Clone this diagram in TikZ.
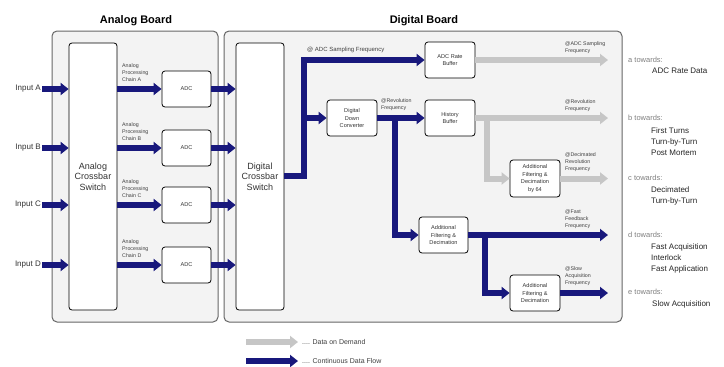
\documentclass[tikz,border=0pt]{standalone}
\usepackage{fontspec}
\setmainfont{Liberation Sans}
\usetikzlibrary{arrows.meta}
\definecolor{navy}{HTML}{18187C}
\definecolor{lgray}{HTML}{C6C6C6}
\definecolor{boardfill}{HTML}{F3F3F3}
\tikzset{
  board/.style={draw=black!60, fill=boardfill, rounded corners=5pt, line width=1pt, inner sep=0pt},
  blk/.style={draw=black, fill=white, rounded corners=3pt, line width=0.8pt, align=center,
    font=\fontsize{5.6}{7.5}\selectfont, text=black!80, inner sep=0pt},
  xbar/.style={blk, minimum width=48pt, minimum height=267pt, font=\fontsize{9}{10.5}\selectfont},
  adcbox/.style={blk, minimum width=49pt, minimum height=36pt},
  bflow/.style={draw=navy, line width=6pt, line join=miter, -{Triangle[width=12pt,length=8pt]}},
  gflow/.style={draw=lgray, line width=6pt, line join=miter, -{Triangle[width=12pt,length=8pt]}},
  tiny/.style={font=\fontsize{5.3}{7}\selectfont, align=left, inner sep=0pt, text=black!75},
  inlbl/.style={font=\fontsize{8}{9}\selectfont, inner sep=1pt, text=black!80},
  title/.style={font=\fontsize{11}{12}\bfseries\selectfont, inner sep=0pt},
  towards/.style={font=\fontsize{7.5}{9}\selectfont, text=black!50, inner sep=0pt, anchor=west},
  dest/.style={font=\fontsize{8}{11}\selectfont, text=black!85, inner sep=0pt, anchor=north west, align=left},
  legtxt/.style={font=\fontsize{7}{8}\selectfont, text=black!75, inner sep=0pt, anchor=west},
}
\begin{document}
\begin{tikzpicture}[x=1pt,y=-1pt]
\useasboundingbox (0,0) rectangle (724,367);
\fill[white] (0,0) rectangle (724,367);

% boards
\node[board, minimum width=166pt, minimum height=291pt] (aboard) at (135,176.5) {};
\node[board, minimum width=398pt, minimum height=291pt] (dboard) at (423,176.5) {};
\node[title] (atitle) at (136,21) {Analog Board};
\node[title] (dtitle) at (424,21) {Digital Board};

% analog
\node[xbar] (axb) at (93,176.5) {Analog\\Crossbar\\Switch};
\node[adcbox] (adcA) at (186.5,89) {ADC};
\node[adcbox] (adcB) at (186.5,148) {ADC};
\node[adcbox] (adcC) at (186.5,205) {ADC};
\node[adcbox] (adcD) at (186.5,265) {ADC};

\node[inlbl, anchor=east] (inA) at (42,89) {Input A};
\node[inlbl, anchor=east] (inB) at (42,148) {Input B};
\node[inlbl, anchor=east] (inC) at (42,205) {Input C};
\node[inlbl, anchor=east] (inD) at (42,265) {Input D};
\foreach \n in {A,B,C,D}{
  \draw[bflow] (in\n.east) -- (in\n.east -| axb.west);
  \draw[bflow] (adc\n.west -| axb.east) -- (adc\n.west);
}
\node[tiny, anchor=south west] (chA) at (122,82) {Analog\\Processing\\Chain A};
\node[tiny, anchor=south west] (chB) at (122,141) {Analog\\Processing\\Chain B};
\node[tiny, anchor=south west] (chC) at (122,198) {Analog\\Processing\\Chain C};
\node[tiny, anchor=south west] (chD) at (122,258) {Analog\\Processing\\Chain D};

% digital
\node[xbar] (dxb) at (260,176.5) {Digital\\Crossbar\\Switch};
\foreach \n in {A,B,C,D}{
  \draw[bflow] (adc\n.east) -- (adc\n.east -| dxb.west);
}
\node[adcbox, minimum width=50pt] (arb) at (450,60) {ADC Rate\\Buffer};
\node[adcbox, minimum width=50pt] (ddc) at (352,118) {Digital\\Down\\Converter};
\node[adcbox, minimum width=50pt] (hb) at (450,118) {History\\Buffer};
\node[adcbox] (af1) at (443.5,235) {Additional\\Filtering \&\\Decimation};
\node[adcbox, minimum width=50pt, minimum height=37pt] (af64) at (535,178.5) {Additional\\Filtering \&\\Decimation\\by 64};
\node[adcbox, minimum width=50pt] (af2) at (535,293) {Additional\\Filtering \&\\Decimation};

\coordinate (bus) at (303.5,176);
\coordinate (tap1) at (395,118);
\coordinate (tap2) at (487,118);
\coordinate (tap3) at (485,235);
\coordinate (outA) at (608,60);
\coordinate (outB) at (608,118);
\coordinate (outC) at (608,178.5);
\coordinate (outD) at (608,235);
\coordinate (outE) at (608,293);

% gray flows
\draw[gflow] (arb.east) -- (outA);
\draw[gflow] (hb.east) -- (outB);
\draw[gflow] (tap2) |- (af64.west);
\draw[gflow] (af64.east) -- (outC);

% blue flows
\draw[bflow] (bus -| dxb.east) -- (bus) |- (arb.west);
\draw[bflow] (ddc.west -| bus) -- (ddc.west);
\draw[bflow] (ddc.east) -- (hb.west);
\draw[bflow] (tap1) |- (af1.west);
\draw[bflow] (af1.east) -- (outD);
\draw[bflow] (tap3) |- (af2.west);
\draw[bflow] (af2.east) -- (outE);

% flow labels
\node[tiny, anchor=south west, font=\fontsize{6}{7}\selectfont] (lbus) at (307,53) {@ ADC Sampling Frequency};
\node[tiny, anchor=south west] (lrev) at (381,111) {@Revolution\\Frequency};
\node[tiny, anchor=south west] (lA) at (565,54) {@ADC Sampling\\Frequency};
\node[tiny, anchor=south west] (lB) at (565,112) {@Revolution\\Frequency};
\node[tiny, anchor=south west] (lC) at (565,172) {@Decimated\\Revolution\\Frequency};
\node[tiny, anchor=south west] (lD) at (565,229) {@Fast\\Feedback\\Frequency};
\node[tiny, anchor=south west] (lE) at (565,286) {@Slow\\Acquisition\\Frequency};

% destinations
\node[towards] (ta) at (628,60) {a towards:};
\node[dest] (da) at (652,68) {ADC Rate Data};
\node[towards] (tb) at (628,118) {b towards:};
\node[dest] (db) at (651,128) {First Turns\\Turn-by-Turn\\Post Mortem};
\node[towards] (tc) at (628,178) {c towards:};
\node[dest] (dc) at (651,187) {Decimated\\Turn-by-Turn};
\node[towards] (td) at (628,235) {d towards:};
\node[dest] (dd) at (651,244) {Fast Acquisition\\Interlock\\Fast Application};
\node[towards] (te) at (628,292) {e towards:};
\node[dest] (de) at (652,301) {Slow Acquisition};

% legend
\coordinate (lg1) at (246,342);
\coordinate (lg1e) at (298,342);
\coordinate (lg2) at (246,361);
\coordinate (lg2e) at (298,361);
\draw[gflow] (lg1) -- (lg1e);
\draw[bflow] (lg2) -- (lg2e);
\node[legtxt] (lt1) at (302,342) {.... Data on Demand};
\node[legtxt] (lt2) at (302,361) {.... Continuous Data Flow};
\end{tikzpicture}
\end{document}
